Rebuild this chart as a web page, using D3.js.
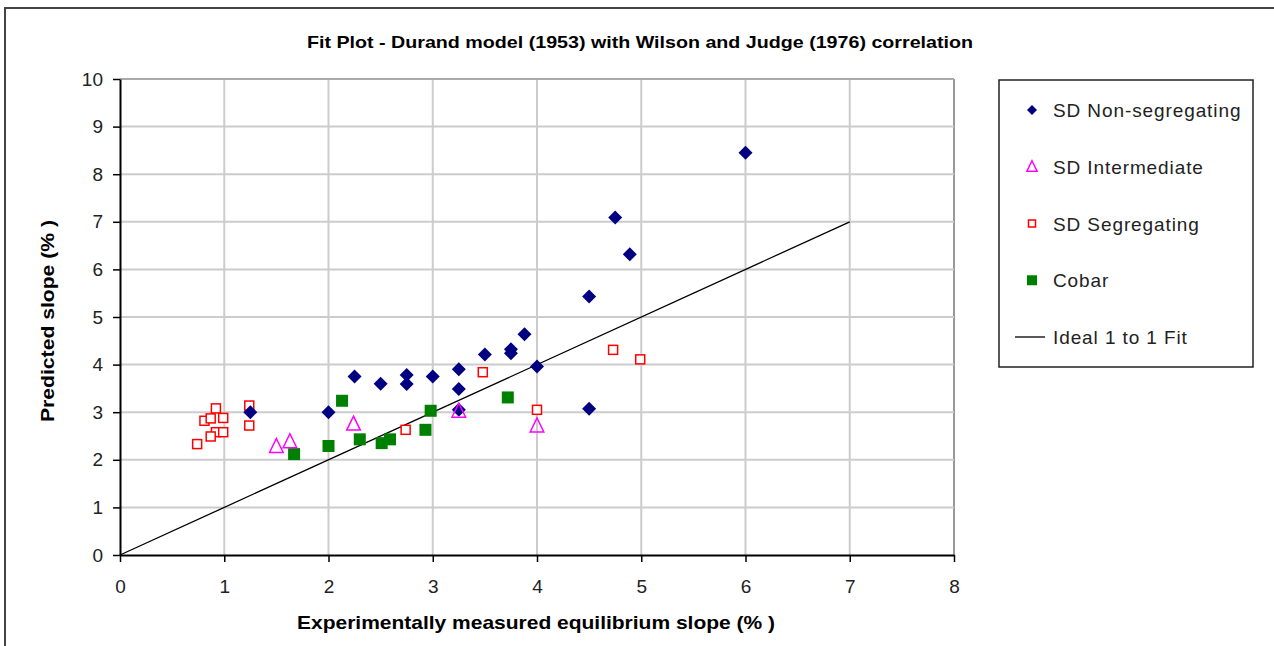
<!DOCTYPE html>
<html>
<head>
<meta charset="utf-8">
<script src="https://cdn.jsdelivr.net/npm/d3@7"></script>
<style>
  body { margin: 0; background: #fff; }
  text { font-family: Arial, "Liberation Sans", sans-serif; }
</style>
</head>
<body>
<div class="chart"></div>
<script>
// measured vs predicted slope (%)
const nonSegX = [1.25, 2.0, 2.25, 2.5, 2.75, 2.75, 3.0, 3.25, 3.25, 3.25, 3.5, 3.75, 3.75, 3.88, 4.0, 4.5, 4.5, 4.75, 4.89, 6.0];
const nonSegY = [3.0, 3.0, 3.75, 3.6, 3.78, 3.59, 3.75, 3.9, 3.49, 3.05, 4.21, 4.32, 4.24, 4.64, 3.96, 3.07, 5.43, 7.09, 6.32, 8.45];

const interX = [1.5, 1.63, 2.24, 3.25, 4.0];
const interY = [2.28, 2.38, 2.75, 3.02, 2.71];

const segX = [0.92, 0.81, 0.87, 0.99, 0.92, 0.99, 0.87, 0.74, 1.24, 1.24, 2.74, 3.48, 4.0, 4.73, 4.99];
const segY = [3.08, 2.82, 2.87, 2.88, 2.58, 2.58, 2.49, 2.33, 3.14, 2.72, 2.63, 3.84, 3.05, 4.31, 4.11];

const cobarX = [1.67, 2.13, 2.0, 2.3, 2.51, 2.59, 2.93, 2.98, 3.72];
const cobarY = [2.12, 3.24, 2.29, 2.43, 2.35, 2.43, 2.63, 3.03, 3.31];

const fitLine = [0, 7];

const xTicks = [0, 1, 2, 3, 4, 5, 6, 7, 8];
const yTicks = [0, 1, 2, 3, 4, 5, 6, 7, 8, 9, 10];

const W = 1274, H = 646;
const svg = d3.select(".chart").append("svg").attr("width", W).attr("height", H);

// outer frame
svg.append("rect")
  .attr("x", 5).attr("y", 8)
  .attr("width", W + 10).attr("height", H + 10)
  .attr("fill", "none").attr("stroke", "#444").attr("stroke-width", 2);

const x = d3.scaleLinear().domain([0, 8]).range([120, 954]);
const y = d3.scaleLinear().domain([0, 10]).range([555, 79]);

// grid
svg.append("g").selectAll("line").data(xTicks.slice(1)).join("line")
  .attr("x1", d => x(d)).attr("x2", d => x(d))
  .attr("y1", y(0)).attr("y2", y(10))
  .attr("stroke", d => d === 8 ? "#999" : "#ccc").attr("stroke-width", 2);
svg.append("g").selectAll("line").data(yTicks.slice(1)).join("line")
  .attr("x1", x(0)).attr("x2", x(8))
  .attr("y1", d => y(d)).attr("y2", d => y(d))
  .attr("stroke", d => d === 10 ? "#aaa" : "#ccc").attr("stroke-width", 2);

// axes
const xAxis = svg.append("g")
  .attr("transform", `translate(0,${y(0)})`)
  .call(d3.axisBottom(x).tickValues(xTicks).tickSize(7).tickPadding(18).tickSizeOuter(0));
const yAxis = svg.append("g")
  .attr("transform", `translate(${x(0)},0)`)
  .call(d3.axisLeft(y).tickValues(yTicks).tickSize(7).tickPadding(10).tickSizeOuter(0));
[xAxis, yAxis].forEach(g => {
  g.select(".domain").attr("stroke", "#000").attr("stroke-width", 2);
  g.selectAll(".tick line").attr("stroke", "#000").attr("stroke-width", 1.5);
  g.selectAll(".tick text")
    .attr("font-size", 19).attr("fill", "#222")
    .style("font-family", "Arial, 'Liberation Sans', sans-serif");
});

// 1:1 line
svg.append("line")
  .attr("x1", x(fitLine[0])).attr("y1", y(fitLine[0]))
  .attr("x2", x(fitLine[1])).attr("y2", y(fitLine[1]))
  .attr("stroke", "#000").attr("stroke-width", 1.3);

const diamond = s => `M0,${-s}L${s},0L0,${s}L${-s},0Z`;
const tri = s => `M0,${-s}L${s * 0.85},${s * 0.75}L${-s * 0.85},${s * 0.75}Z`;

const pts = (xs, ys) => xs.map((v, i) => [v, ys[i]]);

// Cobar
svg.append("g").selectAll("rect").data(pts(cobarX, cobarY)).join("rect")
  .attr("x", d => x(d[0]) - 6).attr("y", d => y(d[1]) - 6)
  .attr("width", 12).attr("height", 12).attr("fill", "#008000");

// SD Segregating
svg.append("g").selectAll("rect").data(pts(segX, segY)).join("rect")
  .attr("x", d => x(d[0]) - 4.5).attr("y", d => y(d[1]) - 4.5)
  .attr("width", 9).attr("height", 9)
  .attr("fill", "#fff").attr("stroke", "#ff0000").attr("stroke-width", 1.5);

// SD Non-segregating
svg.append("g").selectAll("path").data(pts(nonSegX, nonSegY)).join("path")
  .attr("transform", d => `translate(${x(d[0])},${y(d[1])})`)
  .attr("d", diamond(7)).attr("fill", "#000080");

// SD Intermediate
svg.append("g").selectAll("path").data(pts(interX, interY)).join("path")
  .attr("transform", d => `translate(${x(d[0])},${y(d[1])})`)
  .attr("d", tri(8)).attr("fill", "none").attr("stroke", "#ff00ff").attr("stroke-width", 1.5);

// titles
svg.append("text").attr("x", 640).attr("y", 48).attr("text-anchor", "middle")
  .attr("font-size", 17).attr("font-weight", "bold")
  .attr("textLength", 666).attr("lengthAdjust", "spacingAndGlyphs")
  .text("Fit Plot - Durand model (1953) with Wilson and Judge (1976) correlation");
svg.append("text").attr("x", 536).attr("y", 629).attr("text-anchor", "middle")
  .attr("font-size", 19).attr("font-weight", "bold")
  .attr("textLength", 478).attr("lengthAdjust", "spacingAndGlyphs")
  .text("Experimentally measured equilibrium slope (% )");
svg.append("text").attr("transform", "translate(54,321) rotate(-90)").attr("text-anchor", "middle")
  .attr("font-size", 19).attr("font-weight", "bold")
  .attr("textLength", 202).attr("lengthAdjust", "spacingAndGlyphs")
  .text("Predicted slope (% )");

// legend
const legend = svg.append("g");
legend.append("rect").attr("x", 999).attr("y", 80).attr("width", 254).attr("height", 287)
  .attr("fill", "#fff").attr("stroke", "#222").attr("stroke-width", 1.5);
const legendItems = ["SD Non-segregating", "SD Intermediate", "SD Segregating", "Cobar", "Ideal 1 to 1 Fit"];
const legendY = d3.scalePoint().domain(legendItems).range([110, 337]);
const lg = legend.selectAll("g").data(legendItems).join("g")
  .attr("transform", d => `translate(1032,${legendY(d)})`);
lg.append("text").attr("x", 21).attr("y", 7).attr("font-size", 19).attr("letter-spacing", 0.9)
  .attr("fill", "#222").text(d => d);
lg.filter((d, i) => i === 0).append("path").attr("d", diamond(5)).attr("fill", "#000080");
lg.filter((d, i) => i === 1).append("path").attr("d", tri(6)).attr("fill", "none")
  .attr("stroke", "#ff00ff").attr("stroke-width", 1.5);
lg.filter((d, i) => i === 2).append("rect").attr("x", -3.5).attr("y", -3.5).attr("width", 7).attr("height", 7)
  .attr("fill", "#fff").attr("stroke", "#ff0000").attr("stroke-width", 1.5);
lg.filter((d, i) => i === 3).append("rect").attr("x", -5).attr("y", -5).attr("width", 10).attr("height", 10)
  .attr("fill", "#008000");
lg.filter((d, i) => i === 4).append("line").attr("x1", -17).attr("x2", 13)
  .attr("stroke", "#000").attr("stroke-width", 1.3);
</script>
</body>
</html>
